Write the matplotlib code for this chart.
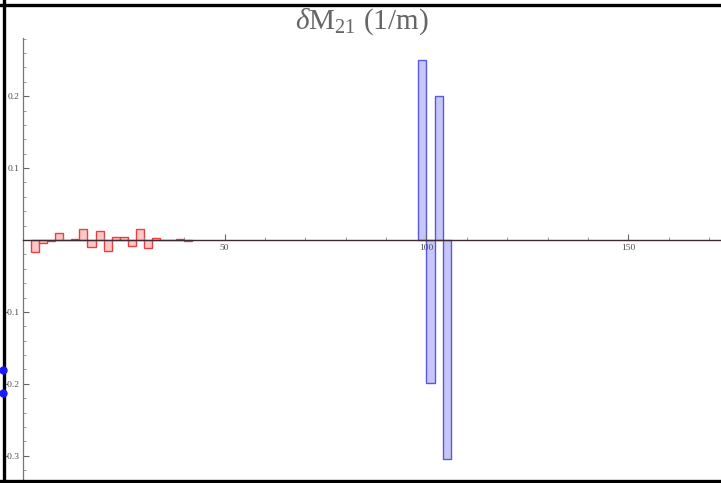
import matplotlib
matplotlib.use("Agg")
import matplotlib.pyplot as plt
from matplotlib.lines import Line2D
from matplotlib.ticker import FixedLocator, FuncFormatter

# ---- data ----
red_left_edges = [2, 4, 6, 8, 10, 12, 14, 16, 18, 20, 22, 24, 26, 28, 30, 32, 34, 36, 38, 40]
red_values = [-0.0162, -0.0046, -0.0009, 0.0093, 0.0003, 0.0014, 0.0153, -0.0097, 0.0130, -0.0153,
              0.0037, 0.0042, -0.0079, 0.0153, -0.0116, 0.0032, 0.0003, 0.0, 0.0014, -0.0009]
blue_left_edges = [98, 100, 102, 104]
blue_values = [0.250, -0.199, 0.200, -0.304]
bin_width = 2
x_major = [50, 100, 150]
y_major = [-0.3, -0.2, -0.1, 0.1, 0.2]
title_text = r"$\delta\mathrm{M}_{21}$ (1/m)"

W, H = 721, 483
plt.rcParams['mathtext.fontset'] = 'custom'
plt.rcParams['mathtext.rm'] = 'Liberation Serif'
plt.rcParams['mathtext.it'] = 'Liberation Serif:italic'
plt.rcParams['font.family'] = ['Liberation Serif', 'DejaVu Serif']
plt.rcParams['axes.unicode_minus'] = False

fig = plt.figure(figsize=(W / 100, H / 100), dpi=100)
fig.patch.set_facecolor('white')

x0px, x1px = 22.9, 721.0
ytop_px, ybot_px = 38.0, 480.0
ax = fig.add_axes([x0px / W, (H - ybot_px) / H, (x1px - x0px) / W, (ybot_px - ytop_px) / H])
ax.set_facecolor('none')

ax.bar(red_left_edges, red_values, width=bin_width, align='edge',
       facecolor=(1.0, 0.78, 0.78), edgecolor=(0.9, 0.25, 0.25), linewidth=1.0, zorder=2)
ax.bar(blue_left_edges, blue_values, width=bin_width, align='edge',
       facecolor=(0.78, 0.78, 0.97), edgecolor=(0.35, 0.35, 0.88), linewidth=1.0, zorder=2)
ax.set_axisbelow(False)

ax.set_xlim(0, (x1px - x0px) / 4.036)
ax.set_ylim(-(ybot_px - 240.0) / 719.4, (240.0 - ytop_px) / 719.4)

for s in ['top', 'right']:
    ax.spines[s].set_visible(False)
ax.spines['left'].set_position(('data', 0))
ax.spines['bottom'].set_position(('data', 0))
ax.spines['left'].set_color('#777777')
ax.spines['left'].set_linewidth(0.9)
ax.spines['bottom'].set_color('#3d2a33')
ax.spines['bottom'].set_linewidth(1.0)
for s in ax.spines.values():
    s.set_zorder(5)

ax.xaxis.set_major_locator(FixedLocator(x_major))
ax.xaxis.set_minor_locator(FixedLocator([v for v in range(10, 180, 10) if v not in x_major]))
ax.yaxis.set_major_locator(FixedLocator(y_major))
ax.yaxis.set_minor_locator(FixedLocator([round(-0.32 + 0.02 * i, 2) for i in range(31)
                                         if round(-0.32 + 0.02 * i, 2) not in y_major + [0.0]]))

ax.xaxis.set_major_formatter(FuncFormatter(lambda v, p: f"{int(v)}"))
ax.yaxis.set_major_formatter(FuncFormatter(lambda v, p: f"{v:.1f}"))

ax.tick_params(axis='both', which='major', direction='in', length=4, width=0.8,
               color='#666666', labelsize=6.8, labelcolor='#4d4d4d')
ax.tick_params(axis='both', which='minor', direction='in', length=2.2, width=0.6,
               color='#888888')
ax.tick_params(axis='x', which='major', pad=3)
ax.tick_params(axis='y', which='major', pad=2.5)

fig.text(362 / W, 1 - 22 / H, title_text, ha='center', va='center',
         fontsize=21, color='#666666')

# image frame (left, top, bottom) and blue handles
lw = 2.4
fig.add_artist(Line2D([4.0 / W, 4.0 / W], [0, 1], color='black', lw=lw))
fig.add_artist(Line2D([0, 1], [1 - 4.5 / H, 1 - 4.5 / H], color='black', lw=lw))
fig.add_artist(Line2D([0, 1], [1 - 481 / H, 1 - 481 / H], color='black', lw=lw))
for ypx in [370, 393]:
    fig.add_artist(Line2D([3.5 / W], [1 - ypx / H], marker='o', markersize=5,
                          color='#1a1aff', linestyle='none'))

fig.savefig('out.png', dpi=100)
